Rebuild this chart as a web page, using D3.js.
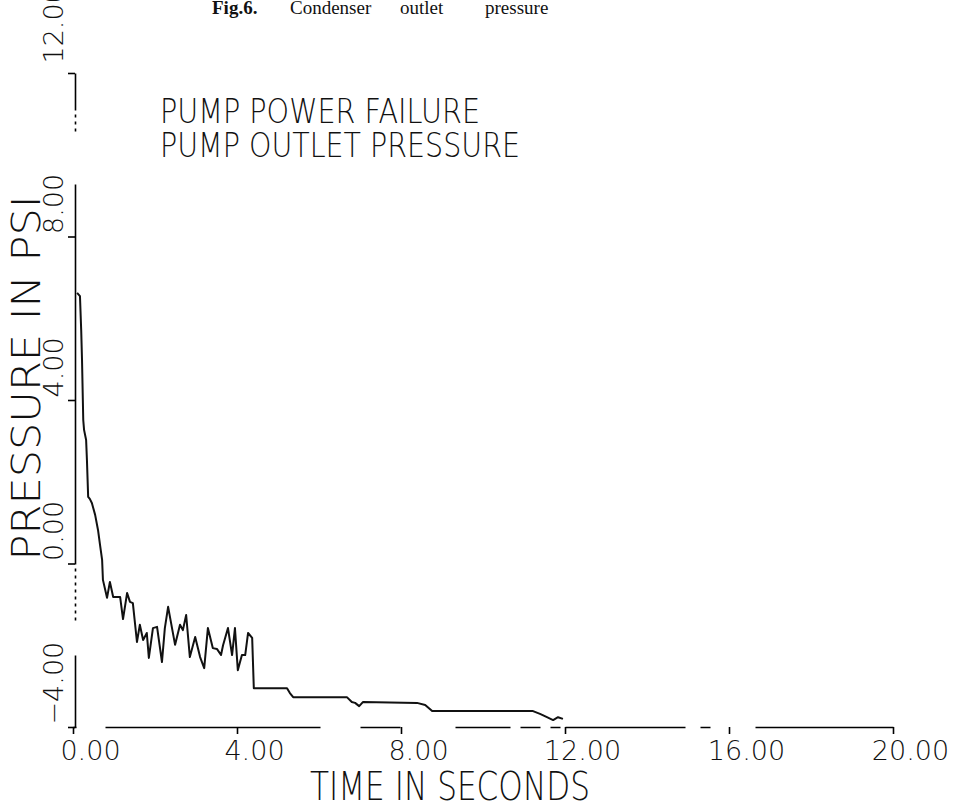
<!DOCTYPE html>
<html>
<head>
<meta charset="utf-8">
<script src="https://cdn.jsdelivr.net/npm/d3@7"></script>
<style>
  body { margin: 0; background: #fff; }
  .plot text { font-family: "DejaVu Sans", sans-serif; font-weight: 200; fill: #111; }
</style>
</head>
<body>
<div id="chart"></div>
<script>
// pump outlet pressure after a pump power failure
const timeSec = [0.10, 0.17, 0.20, 0.22, 0.24, 0.25, 0.27, 0.32, 0.34, 0.37, 0.41, 0.46, 0.54, 0.61, 0.66, 0.71,
  0.73, 0.83, 0.90, 0.98, 1.15, 1.22, 1.32, 1.39, 1.46, 1.56, 1.63, 1.71, 1.80, 1.85, 1.95, 2.05,
  2.17, 2.24, 2.32, 2.49, 2.61, 2.68, 2.76, 2.85, 2.98, 3.10, 3.20, 3.29, 3.41, 3.51, 3.61, 3.66,
  3.78, 3.88, 3.95, 4.02, 4.12, 4.20, 4.27, 4.37, 4.41, 5.22, 5.29, 5.37, 6.68, 6.80, 6.88, 6.98,
  7.07, 8.39, 8.59, 8.76, 11.22, 11.39, 11.56, 11.71, 11.83, 11.95];
const pressurePsi = [6.62, 6.54, 5.71, 4.98, 4.00, 3.51, 3.27, 3.02, 2.53, 1.63, 1.58, 1.48, 1.19, 0.82, 0.45, 0.09,
  -0.40, -0.84, -0.45, -0.82, -0.82, -1.36, -0.72, -0.94, -0.97, -1.92, -1.50, -1.87, -1.70, -2.31, -1.58, -1.55,
  -2.41, -1.58, -1.06, -1.99, -1.50, -1.63, -1.26, -2.29, -1.80, -2.29, -2.56, -1.58, -2.07, -2.09, -2.24, -2.00,
  -1.58, -2.24, -1.58, -2.61, -2.24, -2.24, -1.70, -1.82, -3.05, -3.05, -3.17, -3.27, -3.27, -3.39, -3.41, -3.49,
  -3.39, -3.41, -3.46, -3.61, -3.61, -3.68, -3.76, -3.83, -3.76, -3.80];

const xTicks = [0, 4, 8, 12, 16, 20];
const yTicks = [-4, 0, 4, 8, 12];
const titleLines = ['PUMP POWER FAILURE', 'PUMP OUTLET PRESSURE'];
const captionWords = ['Fig.6.', 'Condenser', 'outlet', 'pressure'];

const width = 965, height = 805;
const margin = { top: 73, right: 72, bottom: 78, left: 73 };

const svg = d3.select('#chart').append('svg')
  .attr('width', width).attr('height', height)
  .attr('class', 'plot');

const x = d3.scaleLinear().domain([0, 20]).range([margin.left, width - margin.right]);
const y = d3.scaleLinear().domain([-4, 12]).range([height - margin.bottom, margin.top]);

// caption at the very top of the page (cut off in the scan)
const capX = [212, 290, 400, 485];
svg.append('text')
  .attr('y', 14)
  .style('font-family', '"Liberation Serif", "Times New Roman", serif')
  .style('font-weight', 'normal')
  .style('font-size', '19px')
  .selectAll('tspan').data(captionWords).join('tspan')
  .attr('x', (d, i) => capX[i])
  .style('font-weight', (d, i) => i === 0 ? 'bold' : 'normal')
  .text(d => d);

// y axis (the scan shows it broken in places; path runs bottom -> top)
const yAxis = svg.append('g')
  .attr('transform', `translate(${margin.left + 2},0)`)
  .call(d3.axisLeft(y).tickValues(yTicks).tickSize(7).tickSizeOuter(0).tickFormat(''));
yAxis.select('.domain').attr('stroke-width', 1.6)
  .attr('stroke-dasharray', '72,35,3,4,3,4,3,4,3,4,3,4,3,4,3,4,3,4,380,53,3,4,3,4,3,4,40');
yAxis.selectAll('.tick line').attr('stroke-width', 1.6);

yAxis.selectAll('.tick').append('text')
  .attr('transform', (d, i) => `translate(-12,${d === 12 ? -10 : -3}) rotate(-90)`)
  .attr('text-anchor', 'start')
  .attr('fill', '#111')
  .style('font-size', '27px')
  .text(d => d3.format('.2f')(d));

// x axis
const xAxis = svg.append('g')
  .attr('transform', `translate(0,${height - margin.bottom})`)
  .call(d3.axisBottom(x).tickValues(xTicks).tickSize(7).tickSizeOuter(0).tickFormat(''));
xAxis.select('.domain').attr('stroke-width', 1.6)
  .attr('stroke-dasharray', '3,29,215,40,40,55,55,10,20,10,10,5,120,15,10,45,140');
xAxis.selectAll('.tick line').attr('stroke-width', 1.6);

xAxis.selectAll('.tick').append('text')
  .attr('x', 17)
  .attr('y', 33)
  .attr('text-anchor', 'middle')
  .attr('fill', '#111')
  .style('font-size', '27px')
  .text(d => d3.format('.2f')(d));

// axis titles
svg.append('text')
  .attr('transform', `translate(40,${378}) rotate(-90)`)
  .attr('text-anchor', 'middle')
  .attr('textLength', 365)
  .attr('lengthAdjust', 'spacingAndGlyphs')
  .style('font-size', '39px')
  .text('PRESSURE IN PSI');

svg.append('text')
  .attr('x', 310)
  .attr('y', 800)
  .attr('textLength', 280)
  .attr('lengthAdjust', 'spacingAndGlyphs')
  .style('font-size', '39px')
  .text('TIME IN SECONDS');

// title block
const titleLen = [320, 360];
svg.selectAll('.title').data(titleLines).join('text')
  .attr('class', 'title')
  .attr('x', 160)
  .attr('y', (d, i) => 123 + i * 34)
  .attr('textLength', (d, i) => titleLen[i])
  .attr('lengthAdjust', 'spacingAndGlyphs')
  .style('font-size', '33px')
  .text(d => d);

// the curve
const pts = timeSec.map((t, i) => [t, pressurePsi[i]]);
svg.append('path')
  .datum(pts)
  .attr('fill', 'none')
  .attr('stroke', '#111')
  .attr('stroke-width', 2)
  .attr('stroke-linejoin', 'round')
  .attr('d', d3.line().x(d => x(d[0])).y(d => y(d[1])));
</script>
</body>
</html>
